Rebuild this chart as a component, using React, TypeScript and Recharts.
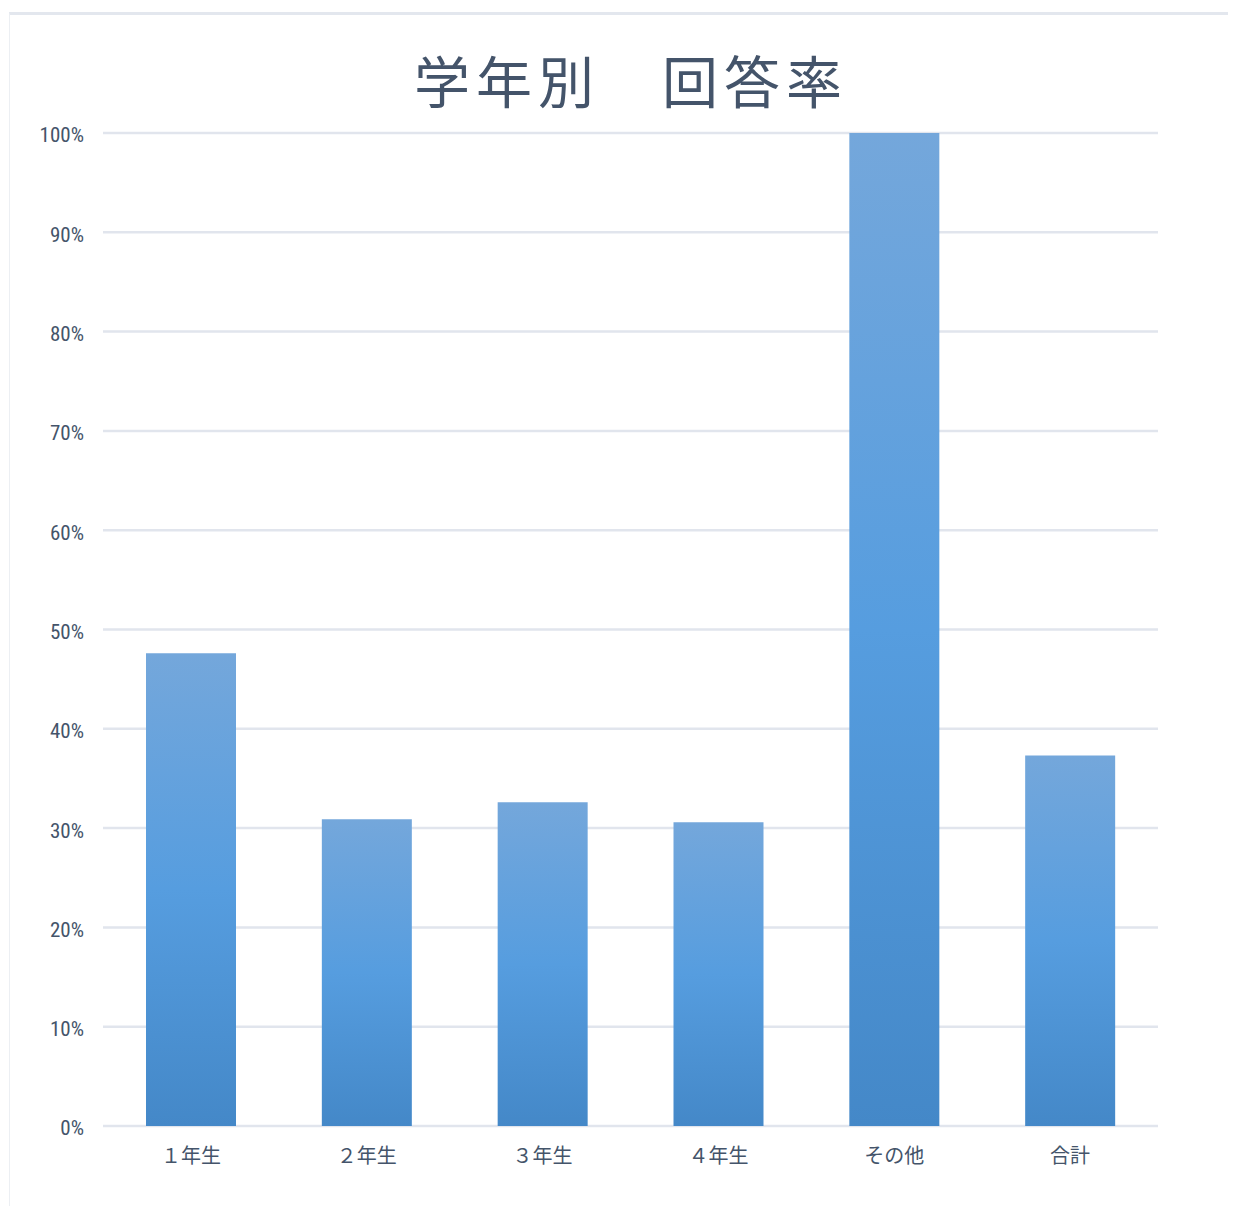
import React from 'react'
import { BarChart, Bar, XAxis, YAxis, CartesianGrid } from 'recharts'

// 学年別の回答率
const grades = ['１年生', '２年生', '３年生', '４年生', 'その他', '合計']
const rates = [0.476, 0.309, 0.326, 0.306, 1.0, 0.373]
const yTicks = [0, 0.1, 0.2, 0.3, 0.4, 0.5, 0.6, 0.7, 0.8, 0.9, 1.0]

const data = grades.map((g, i) => ({ grade: g, rate: rates[i] }))

const textColor = '#44546a'

export default function App() {
  return (
    <div
      style={{
        position: 'relative',
        left: 1,
        top: 4,
        width: 1240,
        height: 1195,
        borderTop: '3px solid #e3e7ee',
        borderLeft: '1px solid #eceff3',
        background: '#fff',
      }}
    >
      <div
        style={{
          position: 'absolute',
          left: 0,
          top: 36,
          width: 1226,
          textAlign: 'center',
          fontFamily: "'Noto Sans CJK JP', sans-serif",
          fontSize: 56,
          lineHeight: '56px',
          letterSpacing: 6,
          color: textColor,
          paddingLeft: 16,
          boxSizing: 'border-box',
        }}
      >
        学年別　回答率
      </div>
      <BarChart
        width={1226}
        height={1199}
        data={data}
        margin={{ top: 118, right: 78, left: 0, bottom: 0 }}
        barSize={90}
      >
        <defs>
          <linearGradient id="barFill" x1="0" y1="0" x2="0" y2="1">
            <stop offset="0%" stopColor="#74a7db" />
            <stop offset="50%" stopColor="#569ddf" />
            <stop offset="100%" stopColor="#4488c8" />
          </linearGradient>
        </defs>
        <CartesianGrid vertical={false} stroke="#e1e5ed" strokeWidth={2.5} />
        <XAxis
          dataKey="grade"
          axisLine={false}
          tickLine={false}
          tickSize={0}
          tickMargin={23}
          height={88}
          tick={{ fill: textColor, fontSize: 20, fontFamily: "'Noto Sans CJK JP', sans-serif" }}
        />
        <YAxis
          domain={[0, 1]}
          ticks={yTicks}
          interval={0}
          width={93}
          axisLine={false}
          tickLine={false}
          tickSize={0}
          tickMargin={19}
          tickFormatter={(v: number) => `${Math.round(v * 100)}%`}
          tick={{ fill: textColor, fontSize: 21, dy: 2, fontFamily: "'Liberation Sans Narrow', 'Roboto Condensed', sans-serif" }}
        />
        <Bar dataKey="rate" fill="url(#barFill)" isAnimationActive={false} />
      </BarChart>
    </div>
  )
}
